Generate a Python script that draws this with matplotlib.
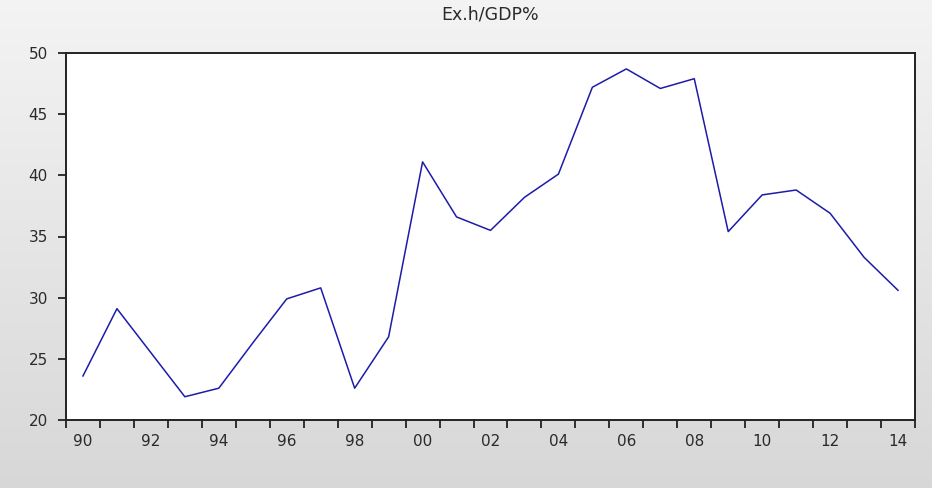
import numpy as np
import matplotlib
matplotlib.use("Agg")
import matplotlib.pyplot as plt

years = list(range(1990, 2015))
values = [23.6, 29.1, 25.5, 21.9, 22.6, 26.3, 29.9, 30.8, 22.6, 26.8,
          41.1, 36.6, 35.5, 38.2, 40.1, 47.2, 48.7, 47.1, 47.9, 35.4,
          38.4, 38.8, 36.9, 33.3, 30.6]
label_years = list(range(1990, 2015, 2))
label_text = ["%02d" % (y % 100) for y in label_years]
title = "Ex.h/GDP%"

plt.rcParams['font.family'] = ['DejaVu Sans']

fig = plt.figure(figsize=(9.32, 4.88), dpi=100)
# gradient background
bg = fig.add_axes([0, 0, 1, 1], zorder=-10)
grad = np.linspace(0.955, 0.845, 256).reshape(-1, 1)
bg.imshow(np.dstack([grad, grad, grad]), aspect='auto', extent=[0, 1, 0, 1])
bg.set_axis_off()

W, H = 932, 488
left, right, top, bottom = 66, 915, 53, 420
ax = fig.add_axes([left / W, 1 - bottom / H, (right - left) / W, (bottom - top) / H])
ax.set_facecolor('white')
ax.plot(years, values, color='#1c1ca8', lw=1.1)

ax.set_xlim(years[0] - 0.5, years[-1] + 0.5)
ax.set_ylim(20, 50)
ax.set_yticks(range(20, 51, 5))
ax.set_xticks([y + 0.5 for y in range(years[0] - 1, years[-1] + 1)])
ax.set_xticklabels([])
ax.set_xticks(label_years, minor=True)
ax.set_xticklabels(label_text, minor=True)
ax.tick_params(axis='x', which='major', length=6, width=1.3, direction='out', color='#222222')
ax.tick_params(axis='x', which='minor', length=0, pad=10, labelsize=11, labelcolor='#2a2a2a')
ax.tick_params(axis='y', length=6, width=1.3, direction='out', pad=7, labelsize=11,
               labelcolor='#2a2a2a', color='#222222')
for s in ax.spines.values():
    s.set_linewidth(1.4)
    s.set_color('#222222')

ax.set_title(title, fontsize=12.5, color='#2a2a2a', pad=24)

fig.savefig('out.png', dpi=100)
